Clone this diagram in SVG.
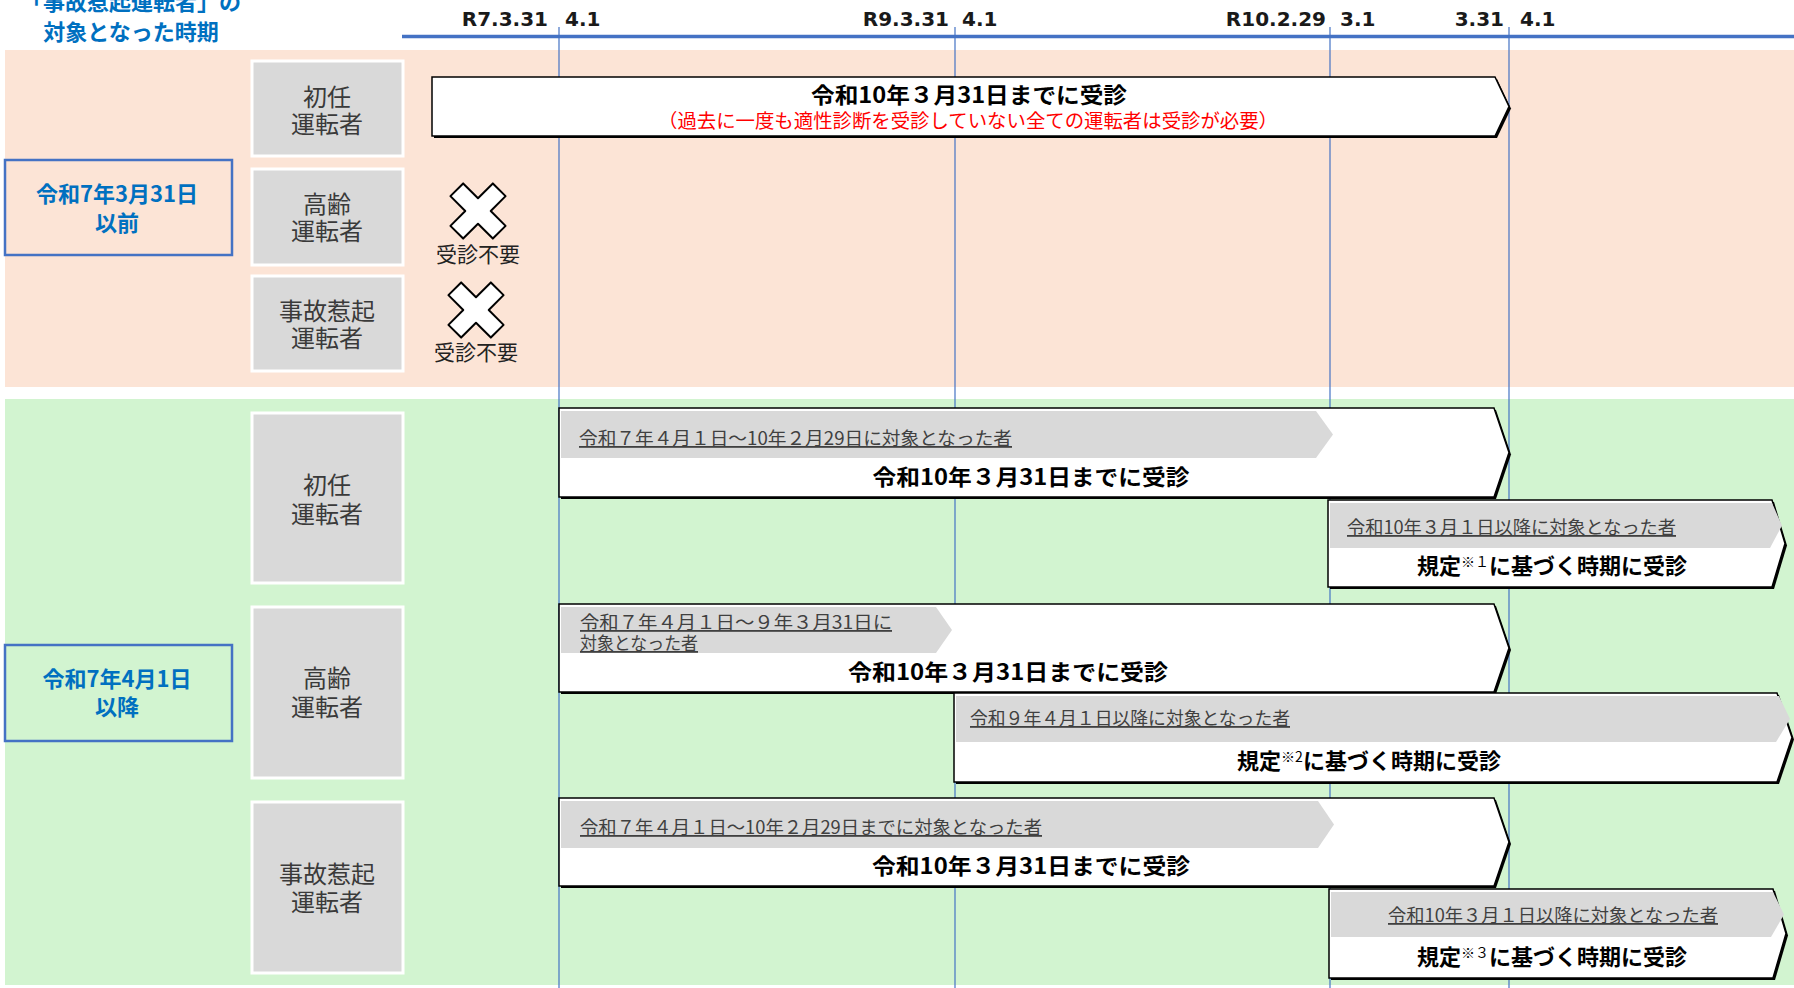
<svg xmlns="http://www.w3.org/2000/svg" width="1794" height="988" viewBox="0 0 1794 988">
<style>
.jp{font-family:"Noto Sans CJK JP","Noto Sans",sans-serif}
.hdr{font-size:22px;font-weight:bold;fill:#0070C0;text-anchor:middle}
.date{font-family:"DejaVu Sans","Liberation Sans",sans-serif;font-size:20px;font-weight:bold;fill:#1a1a1a}
.box{fill:#D9D9D9;stroke:#ffffff;stroke-width:3}
.boxt{font-size:24px;fill:#3a3a3a;text-anchor:middle}
.lbl{fill:none;stroke:#4472C4;stroke-width:2.5}
.lblt{font-size:22px;font-weight:bold;fill:#0070C0;text-anchor:middle}
.bar{fill:#ffffff;stroke:#000;stroke-width:1.5;stroke-linejoin:miter}
.sh{fill:#000}
.band{fill:#D9D9D9}
.sub{font-size:18px;fill:#404040;text-decoration:underline}
.main{font-size:22px;font-weight:bold;fill:#000;text-anchor:middle}
.red{font-size:19px;fill:#FF0000;text-anchor:middle}
.vl{stroke:#4472C4;stroke-width:1.2}
.xm{fill:#fff;stroke:#000;stroke-width:2;stroke-linejoin:round}
.nt{font-size:21px;fill:#222;text-anchor:middle}
</style>
<defs>
<polygon id="xshape" points="-9,-30 9,-30 9,-9 30,-9 30,9 9,9 9,30 -9,30 -9,9 -30,9 -30,-9 -9,-9" transform="rotate(45)"/>
</defs>

<!-- backgrounds -->
<rect x="5" y="50" width="1789" height="337" fill="#FCE4D6"/>
<rect x="5" y="399" width="1789" height="586" fill="#D2F4D0"/>

<!-- header -->
<g id="header">
<text class="jp hdr" x="131" y="9.5">「事故惹起運転者」の</text>
<text class="jp hdr" x="131" y="39.5">対象となった時期</text>
</g>

<!-- timeline axis and gridlines -->
<g id="connectors">
<line x1="402" y1="36.5" x2="1794" y2="36.5" stroke="#4472C4" stroke-width="3.5"/>
<line class="vl" x1="559" y1="27" x2="559" y2="988"/>
<line class="vl" x1="955" y1="27" x2="955" y2="988"/>
<line class="vl" x1="1330" y1="27" x2="1330" y2="988"/>
<line class="vl" x1="1509" y1="27" x2="1509" y2="988"/>
</g>

<g id="dates">
<text class="date" x="548" y="26" text-anchor="end">R7.3.31</text>
<text class="date" x="565" y="26">4.1</text>
<text class="date" x="949" y="26" text-anchor="end">R9.3.31</text>
<text class="date" x="962" y="26">4.1</text>
<text class="date" x="1326" y="26" text-anchor="end">R10.2.29</text>
<text class="date" x="1340" y="26">3.1</text>
<text class="date" x="1504" y="26" text-anchor="end">3.31</text>
<text class="date" x="1520" y="26">4.1</text>
</g>

<!-- period labels -->
<g id="period-before">
<rect class="lbl" x="5" y="160" width="227" height="95"/>
<text class="jp lblt" x="117" y="202">令和7年3月31日</text>
<text class="jp lblt" x="117" y="231">以前</text>
</g>
<g id="period-after">
<rect class="lbl" x="5" y="645" width="227" height="96"/>
<text class="jp lblt" x="117" y="687">令和7年4月1日</text>
<text class="jp lblt" x="117" y="715">以降</text>
</g>

<!-- category boxes (before) -->
<g id="cat-shonin-1">
<rect class="box" x="252" y="61" width="151" height="95"/>
<text class="jp boxt" x="327" y="105.5">初任</text>
<text class="jp boxt" x="327" y="132.5">運転者</text>
</g>
<g id="cat-korei-1">
<rect class="box" x="252" y="169" width="151" height="96"/>
<text class="jp boxt" x="327" y="213">高齢</text>
<text class="jp boxt" x="327" y="240">運転者</text>
</g>
<g id="cat-jiko-1">
<rect class="box" x="252" y="276" width="151" height="95"/>
<text class="jp boxt" x="327" y="320">事故惹起</text>
<text class="jp boxt" x="327" y="347">運転者</text>
</g>

<!-- category boxes (after) -->
<g id="cat-shonin-2">
<rect class="box" x="252" y="413" width="151" height="170"/>
<text class="jp boxt" x="327" y="494">初任</text>
<text class="jp boxt" x="327" y="523">運転者</text>
</g>
<g id="cat-korei-2">
<rect class="box" x="252" y="607" width="151" height="171"/>
<text class="jp boxt" x="327" y="687">高齢</text>
<text class="jp boxt" x="327" y="716">運転者</text>
</g>
<g id="cat-jiko-2">
<rect class="box" x="252" y="802" width="151" height="171"/>
<text class="jp boxt" x="327" y="883">事故惹起</text>
<text class="jp boxt" x="327" y="911">運転者</text>
</g>

<!-- not required marks -->
<g id="not-required-korei">
<use href="#xshape" class="xm" x="478" y="211"/>
<text class="jp nt" x="478" y="262">受診不要</text>
</g>
<g id="not-required-jiko">
<use href="#xshape" class="xm" x="476" y="310"/>
<text class="jp nt" x="476" y="360">受診不要</text>
</g>

<!-- bar: shonin before -->
<g id="bar-shonin-before">
<polygon class="sh" points="434,79 1497,79 1511,108.5 1497,138 434,138"/>
<polygon class="bar" points="432,77 1495,77 1509,106.5 1495,136 432,136"/>
<text class="jp main" x="969" y="103" textLength="316" lengthAdjust="spacingAndGlyphs">令和10年３月31日までに受診</text>
<text class="jp red" x="968" y="128" textLength="620" lengthAdjust="spacingAndGlyphs">（過去に一度も適性診断を受診していない全ての運転者は受診が必要）</text>
</g>

<!-- bar A -->
<g id="bar-shonin-a">
<polygon class="sh" points="561,410 1496,410 1511,454.5 1496,499 561,499"/>
<polygon class="bar" points="559,408 1494,408 1509,452.5 1494,497 559,497"/>
<polygon class="band" points="561,411 1316,411 1333,434.5 1316,458 561,458"/>
<text class="jp sub" x="579" y="445" textLength="433" lengthAdjust="spacingAndGlyphs">令和７年４月１日～10年２月29日に対象となった者</text>
<text class="jp main" x="1031" y="485" textLength="317" lengthAdjust="spacingAndGlyphs">令和10年３月31日までに受診</text>
</g>

<!-- bar B -->
<g id="bar-shonin-b">
<polygon class="sh" points="1330,502 1774,502 1787,545.5 1774,589 1330,589"/>
<polygon class="bar" points="1328,500 1772,500 1785,543.5 1772,587 1328,587"/>
<polygon class="band" points="1330,503 1772,503 1782,525.5 1770,548 1330,548"/>
<text class="jp sub" x="1347" y="534" textLength="329" lengthAdjust="spacingAndGlyphs">令和10年３月１日以降に対象となった者</text>
<text class="jp main" x="1552" y="574">規定<tspan font-size="14" dy="-7" font-weight="normal">※１</tspan><tspan dy="7">に基づく時期に受診</tspan></text>
</g>

<!-- bar C -->
<g id="bar-korei-c">
<polygon class="sh" points="561,606 1496,606 1511,650 1496,694 561,694"/>
<polygon class="bar" points="559,604 1494,604 1509,648 1494,692 559,692"/>
<polygon class="band" points="561,607 936,607 952,630 936,653 561,653"/>
<text class="jp sub" x="580" y="629" textLength="312" lengthAdjust="spacingAndGlyphs">令和７年４月１日～９年３月31日に</text>
<text class="jp sub" x="580" y="650" textLength="118" lengthAdjust="spacingAndGlyphs">対象となった者</text>
<text class="jp main" x="1008" y="680" textLength="320" lengthAdjust="spacingAndGlyphs">令和10年３月31日までに受診</text>
</g>

<!-- bar D -->
<g id="bar-korei-d">
<polygon class="sh" points="956,695 1779,695 1794,739.5 1779,784 956,784"/>
<polygon class="bar" points="954,693 1777,693 1792,737.5 1777,782 954,782"/>
<polygon class="band" points="956,696 1779,696 1790,719 1776,742 956,742"/>
<text class="jp sub" x="970" y="725" textLength="320" lengthAdjust="spacingAndGlyphs">令和９年４月１日以降に対象となった者</text>
<text class="jp main" x="1369" y="769">規定<tspan font-size="14" dy="-7" font-weight="normal">※2</tspan><tspan dy="7">に基づく時期に受診</tspan></text>
</g>

<!-- bar E -->
<g id="bar-jiko-e">
<polygon class="sh" points="561,800 1496,800 1511,844 1496,888 561,888"/>
<polygon class="bar" points="559,798 1494,798 1509,842 1494,886 559,886"/>
<polygon class="band" points="561,801 1318,801 1334,824.5 1318,848 561,848"/>
<text class="jp sub" x="580" y="834" textLength="462" lengthAdjust="spacingAndGlyphs">令和７年４月１日～10年２月29日までに対象となった者</text>
<text class="jp main" x="1031" y="874" textLength="318" lengthAdjust="spacingAndGlyphs">令和10年３月31日までに受診</text>
</g>

<!-- bar F -->
<g id="bar-jiko-f">
<polygon class="sh" points="1331,891 1775,891 1788,935.5 1775,980 1331,980"/>
<polygon class="bar" points="1329,889 1773,889 1786,933.5 1773,978 1329,978"/>
<polygon class="band" points="1331,892 1773,892 1784,914.5 1771,937 1331,937"/>
<text class="jp sub" x="1388" y="922" textLength="330" lengthAdjust="spacingAndGlyphs">令和10年３月１日以降に対象となった者</text>
<text class="jp main" x="1552" y="965">規定<tspan font-size="14" dy="-7" font-weight="normal">※３</tspan><tspan dy="7">に基づく時期に受診</tspan></text>
</g>
</svg>
